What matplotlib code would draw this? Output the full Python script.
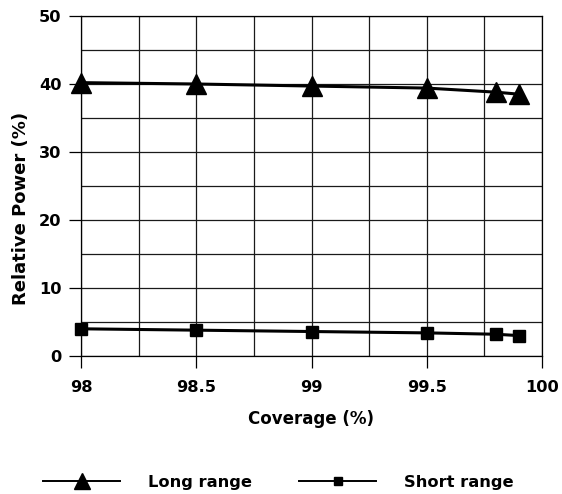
import matplotlib
matplotlib.use("Agg")
import matplotlib.pyplot as plt
from matplotlib.lines import Line2D
import numpy as np

coverage = [98, 98.5, 99, 99.5, 99.8, 99.9]
long_range = [40.2, 40.0, 39.7, 39.4, 38.8, 38.5]
short_range = [4.0, 3.8, 3.6, 3.4, 3.2, 3.0]
x_ticks = [98, 98.5, 99, 99.5, 100]
y_ticks = [0, 10, 20, 30, 40, 50]
series_names = ["Long range", "Short range"]

plt.rcParams['font.family'] = ['DejaVu Sans']
plt.rcParams['font.weight'] = 'bold'

fig = plt.figure(figsize=(5.62, 4.94), dpi=100)
L, R, T, B = 81, 542, 16, 356
ax = fig.add_axes([L/562, 1-B/494, (R-L)/562, (B-T)/494])

ax.set_xlim(98, 100)
ax.set_ylim(0, 50)
ax.set_xticks(x_ticks)
ax.set_xticklabels([f"{t:g}" for t in x_ticks])
ax.set_yticks(y_ticks)
ax.set_xticks(np.arange(98, 100.01, 0.25), minor=True)
ax.set_yticks(np.arange(0, 50.1, 5), minor=True)
ax.grid(True, which='both', color='#1a1a1a', linewidth=0.9)
ax.tick_params(axis='x', which='major', length=8.6, width=0.9, labelsize=11.7, pad=9)
ax.tick_params(axis='y', which='major', length=8.6, width=0.9, labelsize=11.7, pad=5.5)
ax.tick_params(axis='both', which='minor', length=0)
for s in ax.spines.values():
    s.set_linewidth(0.9)
ax.set_axisbelow(True)

ax.plot(coverage, long_range, color='black', linewidth=2.2, marker='^', markersize=14.5,
        clip_on=False, zorder=3)
ax.plot(coverage, short_range, color='black', linewidth=2.2, marker='s', markersize=8.6,
        clip_on=False, zorder=3)

ax.set_xlabel("Coverage (%)", fontsize=12, fontweight='bold')
ax.xaxis.set_label_coords(0.5, -0.16)
ax.set_ylabel("Relative Power (%)", fontsize=13, fontweight='bold')
ax.yaxis.set_label_coords(-0.11, 0.435)

handles = [
    Line2D([], [], color='black', linewidth=1.4, marker='^', markersize=11),
    Line2D([], [], color='black', linewidth=1.4, marker='s', markersize=6),
]
fig.legend(handles, series_names, loc='center left', bbox_to_anchor=(43/562, 1-482/494),
           ncol=2, frameon=False, handlelength=4.74, columnspacing=2.9, handletextpad=1.72,
           borderpad=0, borderaxespad=0,
           prop={'weight': 'bold', 'size': 11.7})

fig.savefig("out.png", dpi=100)
